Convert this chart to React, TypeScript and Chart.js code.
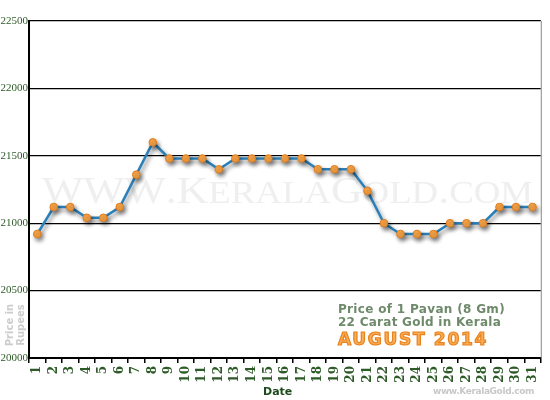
import React, { useEffect, useRef } from "react";
import { Chart, registerables } from "chart.js";

Chart.register(...registerables);

const days = ["1","2","3","4","5","6","7","8","9","10","11","12","13","14","15","16","17","18","19","20","21","22","23","24","25","26","27","28","29","30","31"];
const prices = [20920,21120,21120,21040,21040,21120,21360,21600,21480,21480,21480,21400,21480,21480,21480,21480,21480,21400,21400,21400,21240,21000,20920,20920,20920,21000,21000,21000,21120,21120,21120];
const yMin = 20000;
const yMax = 22500;
const yStep = 500;

const titleLine1 = "Price of 1 Pavan (8 Gm)";
const titleLine2 = "22 Carat Gold in Kerala";
const titleMonth = "AUGUST 2014";
const watermark = "WWW.KeralaGold.com";
const siteText = "www.KeralaGold.com";
const xTitle = "Date";
const yTitleLines = ["Price in", "Rupees"];

function fitText(ctx: any, text: string, width: number) {
  ctx.letterSpacing = "0px";
  const w = ctx.measureText(text).width;
  ctx.letterSpacing = `${(width - w) / text.length}px`;
}

function drawSmallCaps(ctx: any, text: string, x: number, y: number, size: number, width: number) {
  const big = `${size}px "Liberation Serif"`;
  const small = `${Math.round(size * 0.84)}px "Liberation Serif"`;
  const parts = text.split("").map((c) => {
    const lower = c !== c.toUpperCase();
    return { ch: lower ? c.toUpperCase() : c, font: lower ? small : big };
  });
  let total = 0;
  const widths = parts.map((p) => {
    ctx.font = p.font;
    const w = ctx.measureText(p.ch).width;
    total += w;
    return w;
  });
  const sx = width / total;
  ctx.save();
  ctx.translate(x, y);
  ctx.scale(sx, 1);
  let cx = 0;
  parts.forEach((p, i) => {
    ctx.font = p.font;
    ctx.fillText(p.ch, cx, 0);
    cx += widths[i];
  });
  ctx.restore();
}

const decor = {
  id: "decor",
  beforeDatasetsDraw(chart: any) {
    const ctx = chart.ctx;
    ctx.save();
    ctx.fillStyle = "#efefef";
    ctx.textAlign = "left";
    ctx.textBaseline = "alphabetic";
    drawSmallCaps(ctx, watermark, 42, 203, 38, 491);
    ctx.restore();
  },
  beforeDatasetDraw(chart: any) {
    const ctx = chart.ctx;
    ctx.save();
    ctx.shadowColor = "rgba(0,0,0,0.45)";
    ctx.shadowBlur = 4;
    ctx.shadowOffsetX = 2;
    ctx.shadowOffsetY = 3;
  },
  afterDatasetDraw(chart: any) {
    chart.ctx.restore();
  },
  afterDraw(chart: any) {
    const ctx = chart.ctx;
    const ca = chart.chartArea;
    ctx.save();
    ctx.strokeStyle = "#888";
    ctx.lineWidth = 1;
    ctx.beginPath();
    ctx.moveTo(ca.right + 0.5, ca.top);
    ctx.lineTo(ca.right + 0.5, ca.bottom);
    ctx.stroke();

    ctx.textAlign = "left";
    ctx.textBaseline = "alphabetic";
    ctx.fillStyle = "#6e8a6a";
    ctx.font = 'bold 12px "DejaVu Sans"';
    fitText(ctx, titleLine1, 167);
    ctx.fillText(titleLine1, 338, 313);
    fitText(ctx, titleLine2, 163);
    ctx.fillText(titleLine2, 338, 326);
    ctx.font = 'bold 17px "DejaVu Sans"';
    fitText(ctx, titleMonth, 150);
    ctx.lineWidth = 1.2;
    ctx.strokeStyle = "#e8841f";
    ctx.fillStyle = "#f9ac55";
    ctx.fillText(titleMonth, 338, 345);
    ctx.strokeText(titleMonth, 338, 345);
    ctx.letterSpacing = "0px";

    ctx.fillStyle = "#1d4a1d";
    ctx.font = 'bold 11px "DejaVu Sans"';
    ctx.textAlign = "left";
    ctx.fillText(xTitle, 263, 395);

    ctx.fillStyle = "#c8c8c8";
    ctx.font = 'bold 9px "DejaVu Sans"';
    fitText(ctx, siteText, 101);
    ctx.fillText(siteText, 433, 394);
    ctx.letterSpacing = "0px";

    ctx.save();
    ctx.translate(0, 325);
    ctx.rotate(-Math.PI / 2);
    ctx.fillStyle = "#cccccc";
    ctx.font = 'bold 10px "DejaVu Sans"';
    ctx.textAlign = "center";
    ctx.textBaseline = "middle";
    ctx.fillText(yTitleLines[0], 0, 10);
    ctx.fillText(yTitleLines[1], 0, 21);
    ctx.restore();

    ctx.restore();
  },
};

export default function App() {
  const ref = useRef<HTMLCanvasElement>(null);
  useEffect(() => {
    document.body.style.margin = "0";
    const canvas = ref.current!;
    const chart = new Chart(canvas, {
      type: "line",
      data: {
        labels: days,
        datasets: [
          {
            data: prices,
            borderColor: "#2a80b9",
            borderWidth: 2.5,
            pointBackgroundColor: "#f8a548",
            pointBorderColor: "#e07b1a",
            pointBorderWidth: 1,
            pointRadius: 3.8,
            tension: 0,
            fill: false,
          },
        ],
      },
      options: {
        responsive: false,
        animation: false,
        devicePixelRatio: 1,
        layout: { padding: { top: 21, right: 3, bottom: 0, left: 0 } },
        plugins: { legend: { display: false }, tooltip: { enabled: false }, title: { display: false } },
        scales: {
          x: {
            offset: true,
            afterFit: (s: any) => { s.height = 42; },
            grid: {
              offset: true,
              drawOnChartArea: false,
              drawTicks: true,
              tickLength: 5,
              color: "#000",
              lineWidth: 1.5,
            },
            border: { display: true, color: "#000", width: 2 },
            ticks: {
              minRotation: 90,
              maxRotation: 90,
              autoSkip: false,
              padding: 3,
              color: "#2d5a27",
              font: { family: "DejaVu Serif", size: 12, weight: "bold" },
            },
          },
          y: {
            min: yMin,
            max: yMax,
            afterFit: (s: any) => { s.width = 29; },
            grid: {
              drawTicks: false,
              color: "#000",
              lineWidth: 1.2,
            },
            border: { display: true, color: "#000", width: 2 },
            ticks: {
              stepSize: yStep,
              padding: 1,
              color: "#2d5a27",
              font: { family: "Liberation Serif", size: 11 },
              callback: (v: any) => String(v),
            },
          },
        },
      },
      plugins: [decor],
    });
    return () => chart.destroy();
  }, []);
  return (
    <div style={{ width: 550, height: 400, position: "relative" }}>
      <canvas ref={ref} width={550} height={400} style={{ width: 550, height: 400, display: "block" }} />
    </div>
  );
}
